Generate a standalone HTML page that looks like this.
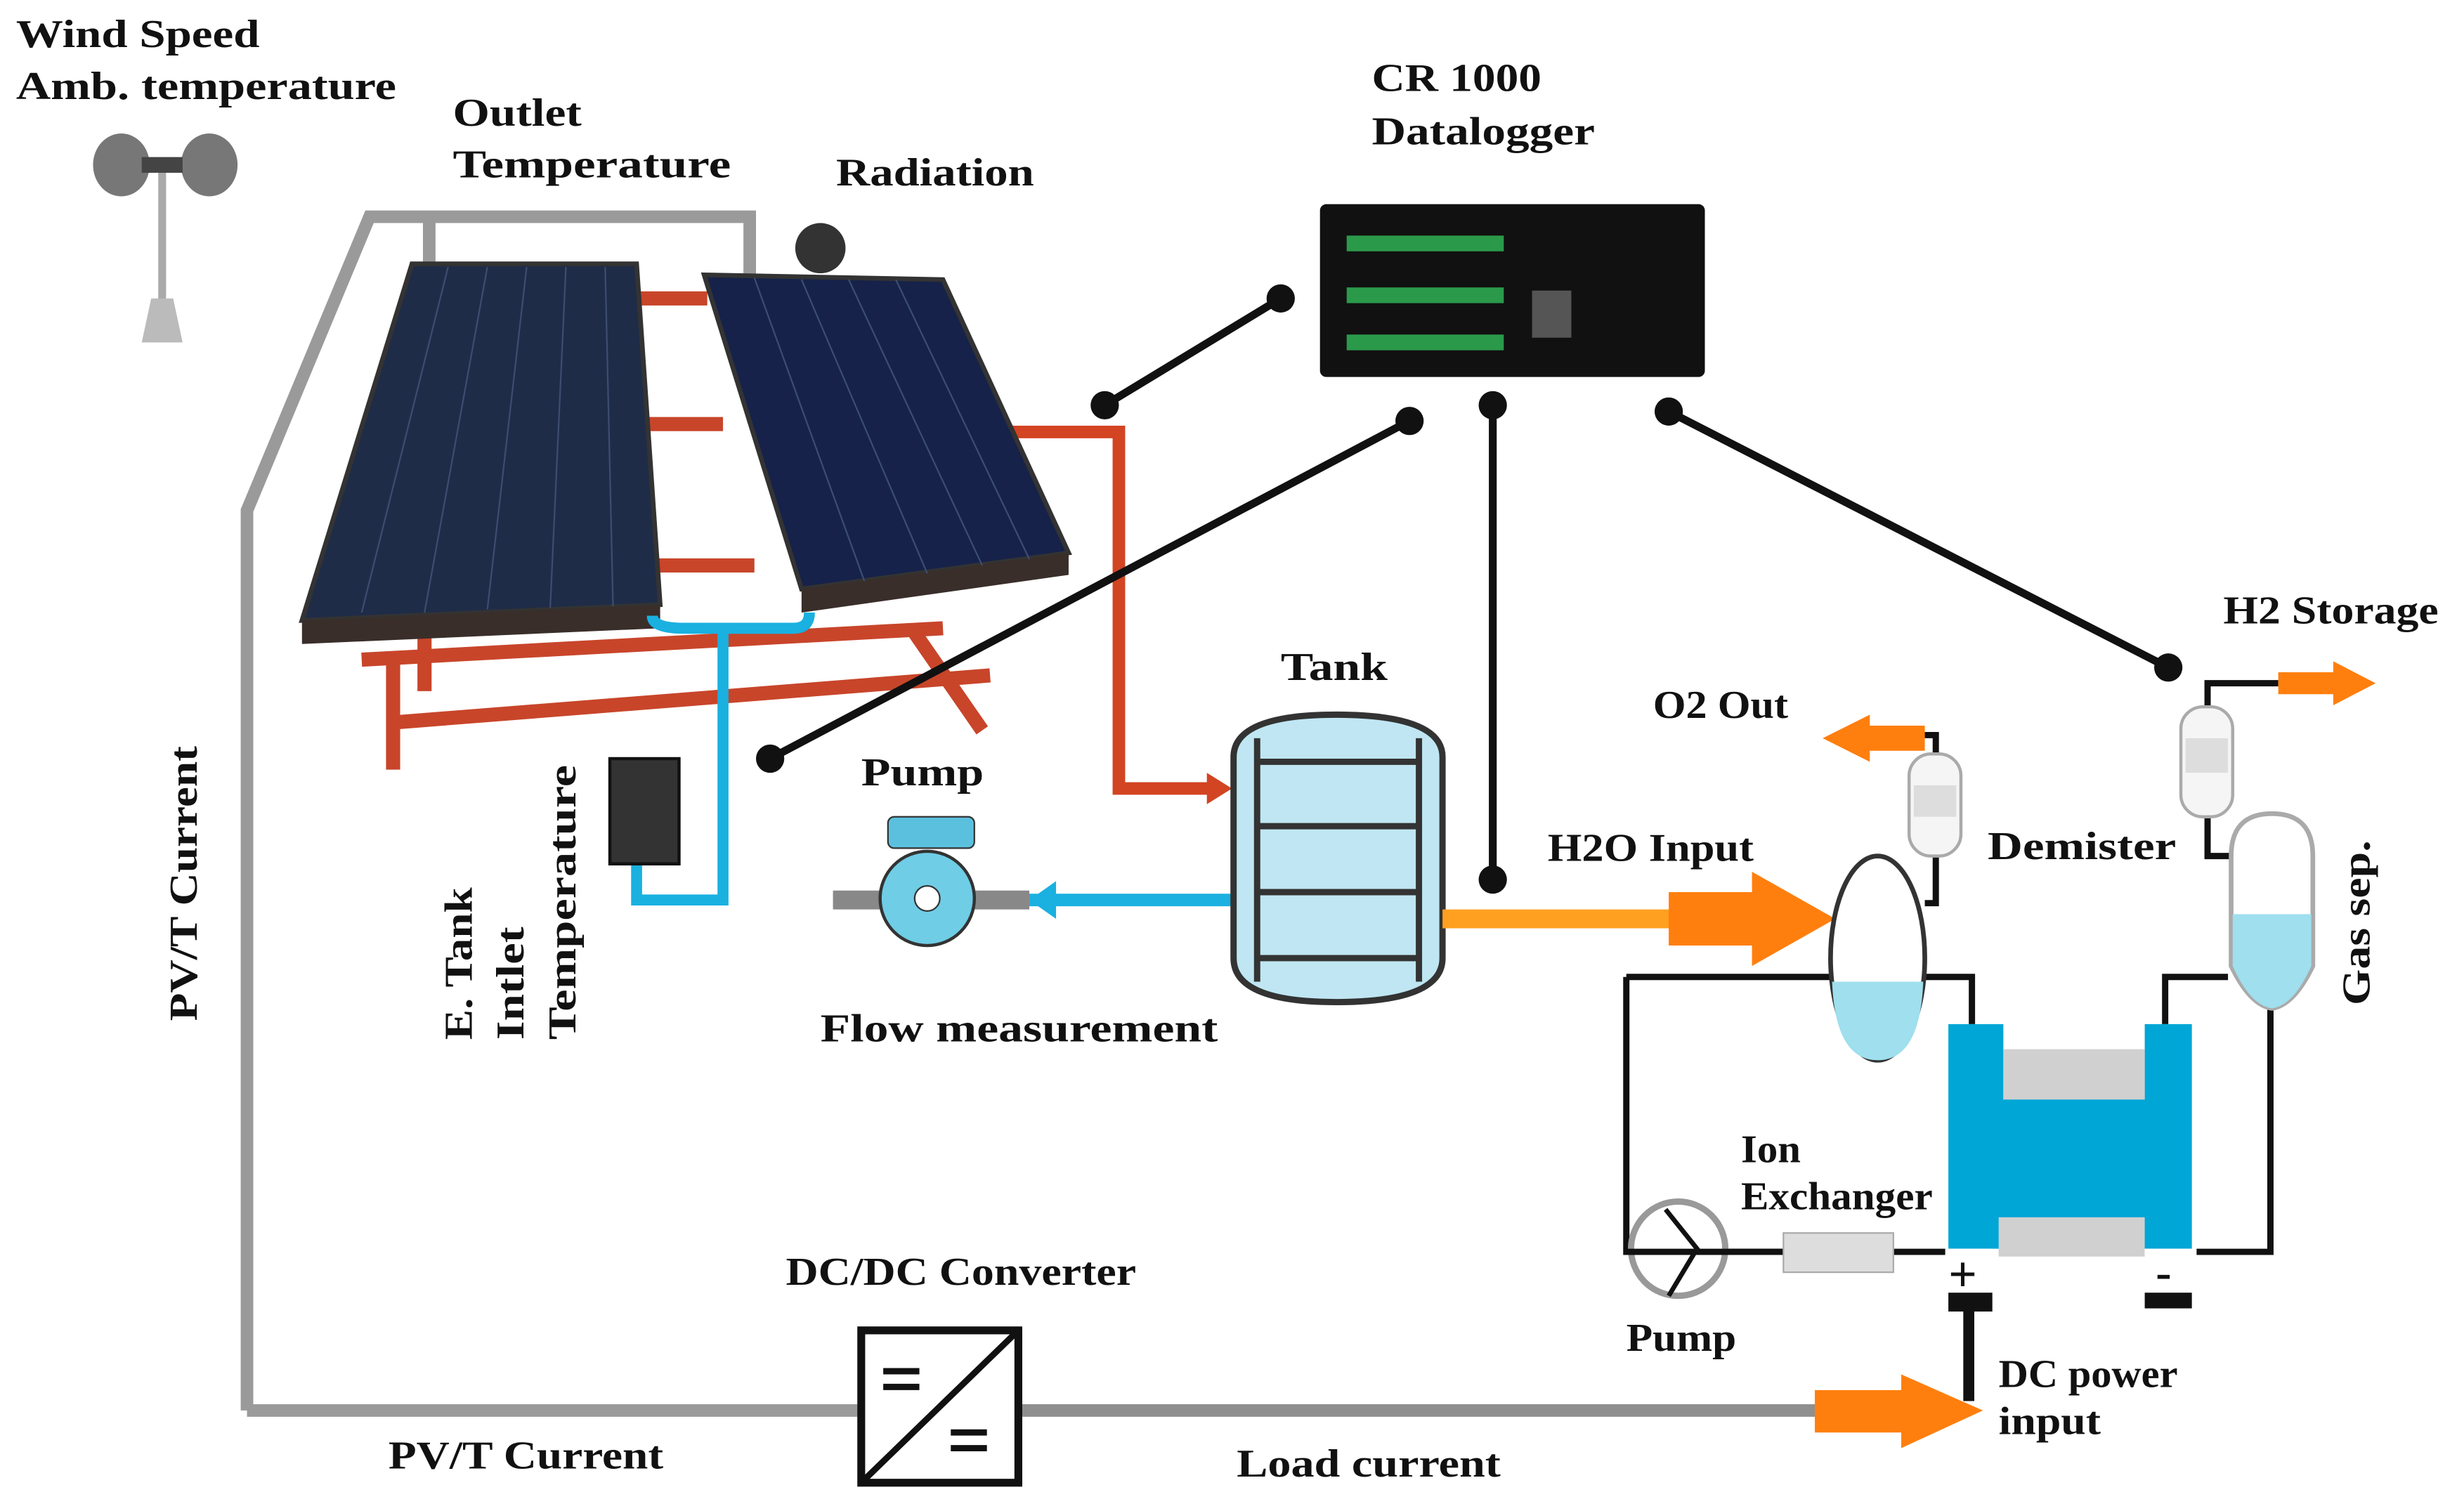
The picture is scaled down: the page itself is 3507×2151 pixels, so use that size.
<!DOCTYPE html>
<html><head><meta charset="utf-8"><style>
html,body{margin:0;padding:0;background:#fff;width:3507px;height:2151px;overflow:hidden}
svg{display:block}
text{font-family:"Liberation Serif",serif;font-weight:bold;fill:#111}
</style></head><body>
<svg width="3507" height="2151" viewBox="0 0 1568 962" xmlns="http://www.w3.org/2000/svg">
<rect width="1568" height="962" fill="#fff"/>
<g font-size="25">
<text x="10" y="30" textLength="155" lengthAdjust="spacingAndGlyphs">Wind Speed</text>
<text x="10" y="63" textLength="242" lengthAdjust="spacingAndGlyphs">Amb. temperature</text>
<text x="288" y="80" textLength="82" lengthAdjust="spacingAndGlyphs">Outlet</text>
<text x="288" y="113" textLength="177" lengthAdjust="spacingAndGlyphs">Temperature</text>
<text x="532" y="118" textLength="126" lengthAdjust="spacingAndGlyphs">Radiation</text>
<text x="873" y="58" textLength="108" lengthAdjust="spacingAndGlyphs">CR 1000</text>
<text x="873" y="92" textLength="142" lengthAdjust="spacingAndGlyphs">Datalogger</text>
<text x="815" y="433" textLength="68" lengthAdjust="spacingAndGlyphs">Tank</text>
<text x="548" y="500" textLength="78" lengthAdjust="spacingAndGlyphs">Pump</text>
<text x="522" y="663" textLength="253" lengthAdjust="spacingAndGlyphs">Flow measurement</text>
<text x="1052" y="457" textLength="86" lengthAdjust="spacingAndGlyphs">O2 Out</text>
<text x="1415" y="397" textLength="137" lengthAdjust="spacingAndGlyphs">H2 Storage</text>
<text x="985" y="548" textLength="131" lengthAdjust="spacingAndGlyphs">H2O Input</text>
<text x="1265" y="547" textLength="120" lengthAdjust="spacingAndGlyphs">Demister</text>
<text x="1108" y="740" textLength="38" lengthAdjust="spacingAndGlyphs">Ion</text>
<text x="1108" y="770" textLength="122" lengthAdjust="spacingAndGlyphs">Exchanger</text>
<text x="1035" y="860" textLength="70" lengthAdjust="spacingAndGlyphs">Pump</text>
<text x="1272" y="883" textLength="114" lengthAdjust="spacingAndGlyphs">DC power</text>
<text x="1272" y="913" textLength="65" lengthAdjust="spacingAndGlyphs">input</text>
<text x="500" y="818" textLength="223" lengthAdjust="spacingAndGlyphs">DC/DC Converter</text>
<text x="247" y="935" textLength="175" lengthAdjust="spacingAndGlyphs">PV/T Current</text>
<text x="787" y="940" textLength="168" lengthAdjust="spacingAndGlyphs">Load current</text>
<text transform="translate(125,650) rotate(-90)" textLength="175" lengthAdjust="spacingAndGlyphs">PV/T Current</text>
<text transform="translate(300,662) rotate(-90)" textLength="97" lengthAdjust="spacingAndGlyphs">E. Tank</text>
<text transform="translate(333,662) rotate(-90)" textLength="72" lengthAdjust="spacingAndGlyphs">Intlet</text>
<text transform="translate(366,662) rotate(-90)" textLength="175" lengthAdjust="spacingAndGlyphs">Temperature</text>
<text transform="translate(1508,640) rotate(-90)" textLength="105" lengthAdjust="spacingAndGlyphs">Gas sep.</text>
</g>
<!-- anemometer -->
<line x1="103" y1="105" x2="103" y2="195" stroke="#aaa" stroke-width="5"/>
<path d="M96 190 L110 190 L116 218 L90 218 Z" fill="#bbb"/>
<ellipse cx="77" cy="105" rx="18" ry="20" fill="#777"/>
<ellipse cx="133" cy="105" rx="18" ry="20" fill="#777"/>
<rect x="90" y="100" width="26" height="10" fill="#444"/>
<!-- gray frame wire -->
<polyline points="157,898 157,325 235,138 477,138 477,175" fill="none" stroke="#9a9a9a" stroke-width="8"/>
<line x1="273" y1="138" x2="273" y2="168" stroke="#9a9a9a" stroke-width="8"/>
<line x1="157" y1="898" x2="548" y2="898" stroke="#9a9a9a" stroke-width="8"/>
<line x1="650" y1="898" x2="1160" y2="898" stroke="#8f8f8f" stroke-width="8"/>
<path d="M1155 885 L1210 885 L1210 875 L1262 898 L1210 922 L1210 912 L1155 912 Z" fill="#ff7f0e"/>
<!-- red frame -->
<g stroke="#c8452a" stroke-width="9" fill="none">
<line x1="405" y1="190" x2="450" y2="190"/>
<line x1="410" y1="270" x2="460" y2="270"/>
<line x1="415" y1="360" x2="480" y2="360"/>
<line x1="230" y1="420" x2="600" y2="400"/>
<line x1="250" y1="460" x2="630" y2="430"/>
<line x1="250" y1="420" x2="250" y2="490"/>
<line x1="270" y1="400" x2="270" y2="440"/>
<line x1="580" y1="400" x2="625" y2="465"/>
</g>
<polyline points="620,275 712,275 712,502 770,502" fill="none" stroke="#d24422" stroke-width="8"/>
<path d="M768 492 L784 502 L768 512 Z" fill="#d24422"/>
<!-- panels -->
<path d="M262 168 L405 168 L420 385 L192 395 Z" fill="#1f2c48" stroke="#333" stroke-width="3"/>
<path d="M192 395 L420 385 L420 400 L192 410 Z" fill="#3a2e2a"/>
<path d="M448 175 L600 178 L680 352 L510 375 Z" fill="#16224a" stroke="#333" stroke-width="3"/>
<path d="M510 375 L680 352 L680 366 L510 390 Z" fill="#3a2e2a"/>
<g stroke="#3c4d70" stroke-width="1">
<line x1="285" y1="170" x2="230" y2="390"/><line x1="310" y1="170" x2="270" y2="390"/>
<line x1="335" y1="170" x2="310" y2="388"/><line x1="360" y1="170" x2="350" y2="387"/>
<line x1="385" y1="170" x2="390" y2="386"/>
<line x1="480" y1="177" x2="550" y2="370"/><line x1="510" y1="178" x2="590" y2="365"/>
<line x1="540" y1="178" x2="625" y2="360"/><line x1="570" y1="178" x2="655" y2="356"/>
</g>
<circle cx="522" cy="158" r="16" fill="#333"/>
<!-- blue pipes -->
<path d="M415 392 Q415 400 435 400 L505 400 Q515 400 515 390" fill="none" stroke="#1ab0e0" stroke-width="7"/>
<polyline points="460,400 460,573 405,573 405,550" fill="none" stroke="#1ab0e0" stroke-width="7"/>
<line x1="655" y1="573" x2="785" y2="573" stroke="#1ab0e0" stroke-width="8"/>
<path d="M672 561 L655 573 L672 585 Z" fill="#1ab0e0"/>
<line x1="530" y1="573" x2="655" y2="573" stroke="#888" stroke-width="12"/>
<rect x="388" y="483" width="44" height="67" fill="#333" stroke="#111" stroke-width="2"/>
<rect x="565" y="520" width="55" height="20" rx="4" fill="#5bc0de" stroke="#333"/>
<circle cx="590" cy="572" r="30" fill="#6fcde6" stroke="#333" stroke-width="2"/>
<circle cx="590" cy="572" r="8" fill="#fff" stroke="#333"/>
<!-- tank -->
<path d="M785 482 Q785 455 850 455 Q918 455 918 482 L918 610 Q918 638 850 638 Q785 638 785 610 Z" fill="#bfe6f2" stroke="#333" stroke-width="4"/>
<g stroke="#333" stroke-width="4">
<line x1="800" y1="470" x2="800" y2="625"/><line x1="903" y1="470" x2="903" y2="625"/>
<line x1="800" y1="485" x2="903" y2="485"/><line x1="800" y1="526" x2="903" y2="526"/>
<line x1="800" y1="568" x2="903" y2="568"/><line x1="800" y1="610" x2="903" y2="610"/>
</g>
<!-- H2O -->
<line x1="918" y1="585" x2="1070" y2="585" stroke="#ffa020" stroke-width="12"/>
<path d="M1062 568 L1115 568 L1115 555 L1168 585 L1115 615 L1115 602 L1062 602 Z" fill="#ff7f0e"/>
<!-- datalogger -->
<rect x="840" y="130" width="245" height="110" rx="4" fill="#111"/>
<rect x="857" y="150" width="100" height="10" fill="#2a9a4a"/>
<rect x="857" y="183" width="100" height="10" fill="#2a9a4a"/>
<rect x="857" y="213" width="100" height="10" fill="#2a9a4a"/>
<rect x="975" y="185" width="25" height="30" fill="#555"/>
<!-- black connectors -->
<g stroke="#111" stroke-width="5">
<line x1="703" y1="258" x2="815" y2="190"/>
<line x1="490" y1="483" x2="897" y2="268"/>
<line x1="950" y1="258" x2="950" y2="560"/>
<line x1="1062" y1="262" x2="1380" y2="425"/>
</g>
<g fill="#111">
<circle cx="703" cy="258" r="9"/><circle cx="815" cy="190" r="9"/>
<circle cx="490" cy="483" r="9"/><circle cx="897" cy="268" r="9"/>
<circle cx="950" cy="258" r="9"/><circle cx="950" cy="560" r="9"/>
<circle cx="1062" cy="262" r="9"/><circle cx="1380" cy="425" r="9"/>
</g>
<!-- electrolyser loop wires -->
<g fill="none" stroke="#111" stroke-width="4">
<polyline points="1035,622 1255,622 1255,652"/>
<polyline points="1035,622 1035,797 1238,797"/>
<polyline points="1378,652 1378,622 1418,622"/>
<polyline points="1445,640 1445,797 1398,797"/>
<polyline points="1225,575 1232,575 1232,545"/>
<polyline points="1232,480 1232,468 1225,468"/>
<polyline points="1405,520 1405,545 1422,545"/>
<polyline points="1405,470 1405,435 1450,435"/>
</g>
<!-- separator -->
<ellipse cx="1195" cy="610" rx="30" ry="65" fill="#fff" stroke="#333" stroke-width="3"/>
<path d="M1166 625 L1224 625 Q1222 675 1195 675 Q1168 675 1166 625 Z" fill="#9fdfee"/>
<!-- gas sep -->
<path d="M1420 545 Q1420 518 1446 518 Q1472 518 1472 545 L1472 615 Q1460 640 1446 642 Q1432 640 1420 615 Z" fill="#fff" stroke="#aaa" stroke-width="3"/>
<path d="M1421 582 L1471 582 L1471 615 Q1460 640 1446 642 Q1432 640 1421 615 Z" fill="#9fdfee"/>
<!-- demisters -->
<rect x="1215" y="480" width="33" height="65" rx="14" fill="#f5f5f5" stroke="#aaa" stroke-width="2"/>
<rect x="1218" y="500" width="27" height="20" fill="#ddd"/>
<rect x="1388" y="450" width="33" height="70" rx="14" fill="#f5f5f5" stroke="#aaa" stroke-width="2"/>
<rect x="1391" y="470" width="27" height="22" fill="#ddd"/>
<!-- orange gas arrows -->
<path d="M1225 462 L1190 462 L1190 455 L1160 470 L1190 485 L1190 478 L1225 478 Z" fill="#ff7f0e"/>
<path d="M1450 428 L1485 428 L1485 421 L1512 435 L1485 449 L1485 442 L1450 442 Z" fill="#ff7f0e"/>
<!-- electrolyzer -->
<path d="M1240 652 L1275 652 L1275 700 L1365 700 L1365 652 L1395 652 L1395 795 L1240 795 Z" fill="#00a6d6"/>
<rect x="1275" y="668" width="90" height="32" fill="#d0d0d0"/>
<rect x="1272" y="775" width="93" height="25" fill="#d0d0d0"/>
<rect x="1240" y="795" width="28" height="28" fill="#fff"/>
<text x="1240" y="822" font-size="32" font-family="Liberation Sans,sans-serif">+</text>
<rect x="1240" y="823" width="28" height="12" fill="#111"/>
<rect x="1365" y="795" width="30" height="28" fill="#fff"/>
<text x="1372" y="820" font-size="30" font-family="Liberation Sans,sans-serif">-</text>
<rect x="1365" y="823" width="30" height="10" fill="#111"/>
<line x1="1253" y1="835" x2="1253" y2="892" stroke="#111" stroke-width="7"/>
<!-- pump & ion exchanger -->
<circle cx="1068" cy="795" r="30" fill="#fff" stroke="#999" stroke-width="4"/>
<polyline points="1060,770 1080,795 1062,825" fill="none" stroke="#111" stroke-width="3"/>
<line x1="1035" y1="797" x2="1135" y2="797" stroke="#111" stroke-width="4"/>
<rect x="1135" y="785" width="70" height="25" fill="#ddd" stroke="#aaa"/>
<!-- DC/DC converter -->
<rect x="548" y="847" width="100" height="97" fill="#fff" stroke="#111" stroke-width="5"/>
<line x1="548" y1="944" x2="648" y2="847" stroke="#111" stroke-width="4"/>
<g stroke="#111" stroke-width="4"><line x1="562" y1="873" x2="585" y2="873"/><line x1="562" y1="883" x2="585" y2="883"/><line x1="605" y1="912" x2="628" y2="912"/><line x1="605" y1="922" x2="628" y2="922"/></g>
</svg>
</body></html>
